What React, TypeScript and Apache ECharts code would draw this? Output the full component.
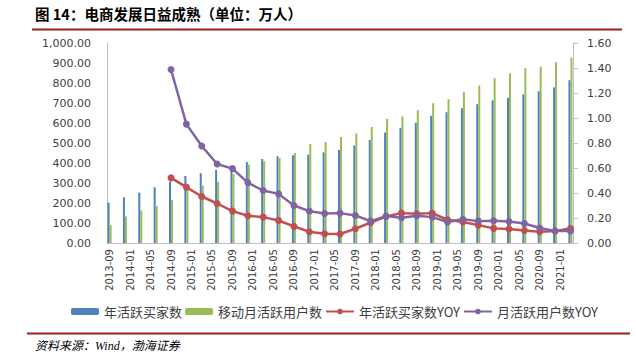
import { useEffect, useRef } from 'react';
import * as echarts from 'echarts';

// Quarterly observation dates
const quarterDates = [
  '2013-09', '2013-12', '2014-03', '2014-06', '2014-09', '2014-12', '2015-03', '2015-06',
  '2015-09', '2015-12', '2016-03', '2016-06', '2016-09', '2016-12', '2017-03', '2017-06',
  '2017-09', '2017-12', '2018-03', '2018-06', '2018-09', '2018-12', '2019-03', '2019-06',
  '2019-09', '2019-12', '2020-03', '2020-06', '2020-09', '2020-12', '2021-03',
];

// 年活跃买家数
const annualBuyers = [
  202, 229, 252, 279, 307, 335, 349, 365, 357, 405, 420, 434, 439, 442, 453, 465,
  488, 515, 553, 576, 601, 636, 654, 674, 694, 713, 726, 743, 759, 778, 814,
];

// 移动月活跃用户数
const mobileMau = [
  90, 133, 163, 186, 216, 268, 287, 306, 345, 392, 409, 425, 450, 495, 505, 530,
  548, 580, 620, 633, 664, 699, 719, 754, 787, 824, 849, 874, 882, 904, 927,
];

// 年活跃买家数YOY
const buyersYoy = [
  null, null, null, null, 0.521, 0.447, 0.372, 0.316, 0.255, 0.218, 0.207, 0.18, 0.133, 0.09, 0.074, 0.072,
  0.114, 0.164, 0.212, 0.239, 0.234, 0.239, 0.186, 0.168, 0.143, 0.117, 0.112, 0.1, 0.09, 0.096, 0.116,
];

// 月活跃用户数YOY
const mauYoy = [
  null, null, null, null, 1.388, 0.951, 0.776, 0.632, 0.595, 0.483, 0.42, 0.393, 0.3, 0.255, 0.236, 0.239,
  0.22, 0.175, 0.215, 0.202, 0.218, 0.207, 0.168, 0.19, 0.175, 0.178, 0.172, 0.156, 0.12, 0.096, 0.096,
];

const seriesNames = ['年活跃买家数', '移动月活跃用户数', '年活跃买家数YOY', '月活跃用户数YOY'];
const titleText = '图 14：电商发展日益成熟（单位：万人）';
const sourceText = '资料来源：Wind，渤海证券';

// Monthly date axis (Excel-style date axis)
function buildMonths(start: string, end: string): string[] {
  const out: string[] = [];
  let [y, m] = start.split('-').map(Number);
  const [ey, em] = end.split('-').map(Number);
  while (y < ey || (y === ey && m <= em)) {
    out.push(`${y}-${String(m).padStart(2, '0')}`);
    m += 1;
    if (m > 12) { m = 1; y += 1; }
  }
  return out;
}

const months = buildMonths(quarterDates[0], quarterDates[quarterDates.length - 1]);

function spread(values: (number | null)[]): (number | null)[] {
  const arr: (number | null)[] = months.map(() => null);
  quarterDates.forEach((d, i) => {
    const idx = months.indexOf(d);
    if (idx >= 0) arr[idx] = values[i];
  });
  return arr;
}

export default function App() {
  const ref = useRef<HTMLDivElement>(null);

  useEffect(() => {
    if (!ref.current) return;
    const chart = echarts.init(ref.current, undefined, { renderer: 'svg' });
    const axisColor = '#BFBFBF';
    const labelColor = '#404040';
    const numFont = 'DejaVu Sans';
    const cjkFont = 'Noto Sans CJK SC';

    chart.setOption({
      animation: false,
      backgroundColor: '#ffffff',
      grid: { left: 107, right: 63, top: 43, bottom: 114, containLabel: false },
      legend: {
        data: seriesNames,
        left: 66,
        top: 300,
        itemWidth: 28,
        itemHeight: 7,
        itemGap: 3,
        textStyle: { fontFamily: cjkFont, fontSize: 13, color: labelColor },
      },
      xAxis: {
        type: 'category',
        data: months,
        boundaryGap: true,
        axisLine: { show: true, lineStyle: { color: axisColor, width: 1 } },
        axisTick: { show: false },
        axisLabel: {
          rotate: 90,
          interval: (index: number) => index % 4 === 0,
          fontFamily: numFont,
          fontSize: 10,
          color: labelColor,
          margin: 6,
        },
        splitLine: { show: false },
      },
      yAxis: [
        {
          type: 'value',
          min: 0,
          max: 1000,
          interval: 100,
          axisLine: { show: true, lineStyle: { color: axisColor } },
          axisTick: { show: false },
          splitLine: { show: false },
          axisLabel: {
            fontFamily: numFont,
            fontSize: 11,
            color: labelColor,
            margin: 16,
            formatter: (v: number) =>
              v.toLocaleString('en-US', { minimumFractionDigits: 2, maximumFractionDigits: 2 }),
          },
        },
        {
          type: 'value',
          min: 0,
          max: 1.6,
          interval: 0.2,
          position: 'right',
          axisLine: { show: true, lineStyle: { color: axisColor } },
          axisTick: { show: true, inside: false, length: 5, lineStyle: { color: axisColor } },
          splitLine: { show: false },
          axisLabel: {
            fontFamily: numFont,
            fontSize: 11,
            color: labelColor,
            margin: 14,
            formatter: (v: number) => v.toFixed(2),
          },
        },
      ],
      series: [
        {
          name: seriesNames[0],
          type: 'bar',
          data: spread(annualBuyers),
          barWidth: 2,
          barGap: '0%',
          itemStyle: { color: '#4F81BD' },
          yAxisIndex: 0,
        },
        {
          name: seriesNames[1],
          type: 'bar',
          data: spread(mobileMau),
          barWidth: 2,
          barGap: '0%',
          itemStyle: { color: '#9BBB59' },
          yAxisIndex: 0,
        },
        {
          name: seriesNames[2],
          type: 'line',
          data: spread(buyersYoy),
          yAxisIndex: 1,
          connectNulls: true,
          showAllSymbol: true,
          symbol: 'circle',
          symbolSize: 7,
          lineStyle: { color: '#C0504D', width: 2.5 },
          itemStyle: { color: '#C0504D' },
          z: 3,
        },
        {
          name: seriesNames[3],
          type: 'line',
          data: spread(mauYoy),
          yAxisIndex: 1,
          connectNulls: true,
          showAllSymbol: true,
          symbol: 'circle',
          symbolSize: 7,
          lineStyle: { color: '#8064A2', width: 2.5 },
          itemStyle: { color: '#8064A2' },
          z: 4,
        },
      ],
      graphic: [
        {
          type: 'text',
          left: 35,
          top: 6,
          style: {
            text: titleText,
            fontFamily: cjkFont,
            fontSize: 14.5,
            fontWeight: 'bold',
            fill: '#000000',
          },
        },
        {
          type: 'line',
          shape: { x1: 32, y1: 29.5, x2: 622, y2: 29.5 },
          style: { stroke: '#9C1F1F', lineWidth: 2 },
        },
        {
          type: 'line',
          shape: { x1: 27, y1: 333.5, x2: 630, y2: 333.5 },
          style: { stroke: '#9C1F1F', lineWidth: 2 },
        },
        {
          type: 'text',
          left: 35,
          top: 340,
          style: {
            text: sourceText,
            fontFamily: 'Liberation Serif, ' + cjkFont,
            fontSize: 12,
            fontStyle: 'italic',
            fill: '#000000',
          },
        },
      ],
    });

    return () => chart.dispose();
  }, []);

  return (
    <div
      ref={ref}
      style={{ position: 'fixed', left: 0, top: 0, width: 636, height: 357, background: '#fff' }}
    />
  );
}
